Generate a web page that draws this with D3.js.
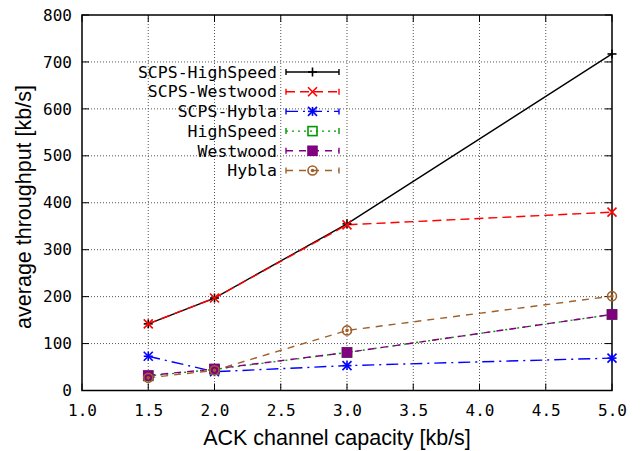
<!DOCTYPE html>
<html><head><meta charset="utf-8">
<script src="https://cdn.jsdelivr.net/npm/d3@7"></script>
<style>body{margin:0;background:#fff}svg{display:block}</style>
</head><body>
<svg id="c" width="641" height="451"></svg>
<script>
const xValues = [1.5, 2.0, 3.0, 5.0];
const seriesNames = ["SCPS-HighSpeed","SCPS-Westwood","SCPS-Hybla","HighSpeed","Westwood","Hybla"];
const scpsHighSpeed = [142, 197, 355, 717];
const scpsWestwood  = [142, 197, 353, 380];
const scpsHybla     = [73, 40, 53, 69];
const highSpeed     = [31, 45, 81, 162];
const westwood      = [32, 46, 81, 162];
const hybla         = [27, 43, 128, 201];
const xTicks = [1.0,1.5,2.0,2.5,3.0,3.5,4.0,4.5,5.0];
const yTicks = [0,100,200,300,400,500,600,700,800];

const styles = [
  {color:"#000000", dash:null, marker:"plus"},
  {color:"#ff0000", dash:"9,5", marker:"cross"},
  {color:"#0000ff", dash:"12,5,2,5", marker:"star"},
  {color:"#009900", dash:"2,4", marker:"square"},
  {color:"#800080", dash:"7,6", marker:"fsquare"},
  {color:"#a0602a", dash:"7,6", marker:"circle"}
];
const data = [scpsHighSpeed, scpsWestwood, scpsHybla, highSpeed, westwood, hybla];

const svg = d3.select("#c");
const L=82, R=612, T=15, B=390.5;
const x = d3.scaleLinear().domain([1,5]).range([L,R]);
const y = d3.scaleLinear().domain([0,800]).range([B,T]);
const mono = "'DejaVu Sans Mono', monospace";

// grid
const g = svg.append("g");
xTicks.slice(1,-1).forEach(v=>{
  g.append("line").attr("x1",x(v)).attr("x2",x(v)).attr("y1",T).attr("y2",B)
   .attr("stroke","#555").attr("stroke-width",1).attr("stroke-dasharray","1,2");
});
yTicks.slice(1,-1).forEach(v=>{
  g.append("line").attr("x1",L).attr("x2",R).attr("y1",y(v)).attr("y2",y(v))
   .attr("stroke","#555").attr("stroke-width",1).attr("stroke-dasharray","1,2");
});

// axes via d3
const xAxis = d3.axisBottom(x).tickValues(xTicks).tickSize(0).tickPadding(14).tickFormat(d3.format(".1f"));
const yAxis = d3.axisLeft(y).tickValues(yTicks).tickSize(0).tickPadding(10).tickFormat(d3.format("d"));
const ax = svg.append("g").attr("transform",`translate(0,${B})`).call(xAxis);
const ay = svg.append("g").attr("transform",`translate(${L},0)`).call(yAxis);
[ax,ay].forEach(a=>{
  a.select(".domain").remove();
  a.selectAll("text").attr("font-family",mono).attr("font-size","16px").attr("fill","#000");
});
ax.selectAll("text").attr("dy","0.71em");

// inward ticks on all sides
xTicks.forEach(v=>{
  svg.append("line").attr("x1",x(v)).attr("x2",x(v)).attr("y1",B).attr("y2",B-7).attr("stroke","#000");
  svg.append("line").attr("x1",x(v)).attr("x2",x(v)).attr("y1",T).attr("y2",T+7).attr("stroke","#000");
});
yTicks.forEach(v=>{
  svg.append("line").attr("x1",L).attr("x2",L+7).attr("y1",y(v)).attr("y2",y(v)).attr("stroke","#000");
  svg.append("line").attr("x1",R).attr("x2",R-7).attr("y1",y(v)).attr("y2",y(v)).attr("stroke","#000");
});
svg.append("rect").attr("x",L).attr("y",T).attr("width",R-L).attr("height",B-T)
  .attr("fill","none").attr("stroke","#000").attr("stroke-width",1.5);

// titles
svg.append("text").attr("x",337).attr("y",445).attr("text-anchor","middle")
  .attr("font-family","'Liberation Sans', Arial, sans-serif").attr("font-size","21.5px").text("ACK channel capacity [kb/s]");
svg.append("text").attr("transform",`translate(31,207) rotate(-90)`).attr("text-anchor","middle")
  .attr("font-family","'Liberation Sans', Arial, sans-serif").attr("font-size","21.5px").text("average throughput [kb/s]");

function marker(sel, type, cx, cy, color){
  const s=4.5;
  const m = sel.append("g").attr("transform",`translate(${cx},${cy})`).attr("stroke",color).attr("stroke-width",1.6);
  if(type==="plus"||type==="star"){
    m.append("line").attr("x1",-s).attr("x2",s).attr("y1",0).attr("y2",0);
    m.append("line").attr("x1",0).attr("x2",0).attr("y1",-s).attr("y2",s);
  }
  if(type==="cross"||type==="star"){
    m.append("line").attr("x1",-s).attr("x2",s).attr("y1",-s).attr("y2",s);
    m.append("line").attr("x1",-s).attr("x2",s).attr("y1",s).attr("y2",-s);
  }
  if(type==="square") m.append("rect").attr("x",-s).attr("y",-s).attr("width",2*s).attr("height",2*s).attr("fill","none");
  if(type==="fsquare") m.append("rect").attr("x",-s).attr("y",-s).attr("width",2*s).attr("height",2*s).attr("fill",color);
  if(type==="circle"){
    m.append("circle").attr("r",s).attr("fill","none");
    m.append("circle").attr("r",1).attr("fill",color);
  }
}

const line = d3.line().x((d,i)=>x(xValues[i])).y(d=>y(d));
data.forEach((vals,k)=>{
  const st=styles[k];
  svg.append("path").datum(vals).attr("d",line).attr("fill","none")
    .attr("stroke",st.color).attr("stroke-width",1.4).attr("stroke-dasharray",st.dash);
});
data.forEach((vals,k)=>{
  vals.forEach((v,i)=>marker(svg, styles[k].marker, x(xValues[i]), y(v), styles[k].color));
});

// legend
const lg = svg.append("g");
seriesNames.forEach((n,k)=>{
  const yy = 72 + k*19.7, st=styles[k];
  lg.append("text").attr("x",277).attr("y",yy).attr("dy","0.35em").attr("text-anchor","end")
    .attr("font-family",mono).attr("font-size","16.5px").text(n);
  lg.append("line").attr("x1",286).attr("x2",339).attr("y1",yy).attr("y2",yy)
    .attr("stroke",st.color).attr("stroke-width",1.4).attr("stroke-dasharray",st.dash);
  [286,339].forEach(xx=>lg.append("line").attr("x1",xx).attr("x2",xx).attr("y1",yy-3).attr("y2",yy+3)
    .attr("stroke",st.color).attr("stroke-width",1.4));
  marker(lg, st.marker, 312.5, yy, st.color);
});
</script>
</body></html>
